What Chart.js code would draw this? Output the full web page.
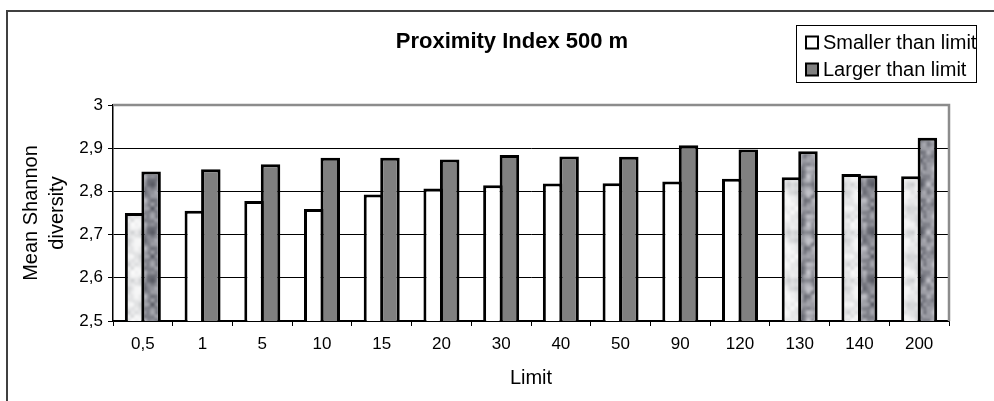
<!DOCTYPE html>
<html>
<head>
<meta charset="utf-8">
<title>Proximity Index 500 m</title>
<script src="https://cdn.jsdelivr.net/npm/chart.js@4.4.1/dist/chart.umd.min.js"></script>
<style>
  html, body { margin: 0; padding: 0; background: #ffffff; }
  #wrap { width: 994px; height: 401px; position: relative; }
</style>
</head>
<body>
<div id="wrap"><canvas id="chart" width="994" height="401"></canvas></div>
<script>
// ---- data ----
const limits = ['0,5', '1', '5', '10', '15', '20', '30', '40', '50', '90', '120', '130', '140', '200'];
const smallerThanLimit = [2.750, 2.755, 2.778, 2.759, 2.793, 2.807, 2.814, 2.818, 2.819, 2.823, 2.829, 2.833, 2.840, 2.835];
const largerThanLimit  = [2.846, 2.851, 2.863, 2.878, 2.878, 2.874, 2.884, 2.881, 2.880, 2.907, 2.897, 2.893, 2.837, 2.924];
const yTicks = [2.5, 2.6, 2.7, 2.8, 2.9, 3];
const seriesNames = ['Smaller than limit', 'Larger than limit'];
const texturedLimits = ['0,5', '130', '140', '200'];

// ---- style ----
const FONT = '"Liberation Sans", Arial, Helvetica, sans-serif';
const SMALLER_FILL = '#ffffff';
const LARGER_FILL = '#808080';

// Deterministic mottled texture used for the highlighted limits
function hash(i, j, seed) {
  const s = Math.sin(i * 127.1 + j * 311.7 + seed * 74.7) * 43758.5453;
  return s - Math.floor(s);
}
function valueNoise(x, y, cell, size, seed) {
  const g = size / cell;
  const gx = x / cell, gy = y / cell;
  const i0 = Math.floor(gx), j0 = Math.floor(gy);
  let fx = gx - i0, fy = gy - j0;
  fx = fx * fx * (3 - 2 * fx); fy = fy * fy * (3 - 2 * fy);
  const a = hash(i0 % g, j0 % g, seed), b = hash((i0 + 1) % g, j0 % g, seed);
  const c = hash(i0 % g, (j0 + 1) % g, seed), d = hash((i0 + 1) % g, (j0 + 1) % g, seed);
  return (a * (1 - fx) + b * fx) * (1 - fy) + (c * (1 - fx) + d * fx) * fy;
}
function makeTexture(light, dark, seed, power) {
  const N = 48;
  const cv = document.createElement('canvas');
  cv.width = N; cv.height = N;
  const g = cv.getContext('2d');
  const img = g.createImageData(N, N);
  for (let y = 0; y < N; y++) {
    for (let x = 0; x < N; x++) {
      let v = 0.65 * valueNoise(x, y, 8, N, seed) + 0.35 * valueNoise(x, y, 4, N, seed + 3);
      v = Math.pow(Math.min(1, Math.max(0, v)), power);
      const k = (y * N + x) * 4;
      for (let ch = 0; ch < 3; ch++) img.data[k + ch] = Math.round(light[ch] * (1 - v) + dark[ch] * v);
      img.data[k + 3] = 255;
    }
  }
  g.putImageData(img, 0, 0);
  return g.createPattern(cv, 'repeat');
}

const ctx = document.getElementById('chart').getContext('2d');
const lightTexture = makeTexture([252, 252, 252], [190, 192, 195], 1, 1.5);
const darkTexture = makeTexture([214, 214, 220], [70, 72, 82], 7, 1.4);

const smallerColors = limits.map(l => texturedLimits.includes(l) ? lightTexture : SMALLER_FILL);
const largerColors = limits.map(l => texturedLimits.includes(l) ? darkTexture : LARGER_FILL);

// Outer frame, plot frame, title and boxed legend
const decorations = {
  id: 'decorations',
  beforeDraw(chart) {
    const c = chart.ctx;
    c.save();
    c.strokeStyle = '#404040';
    c.lineWidth = 2;
    c.beginPath();
    c.moveTo(7, 401);
    c.lineTo(7, 11);
    c.lineTo(994, 11);
    c.stroke();
    c.restore();
  },
  afterDraw(chart) {
    const c = chart.ctx;
    const a = chart.chartArea;
    c.save();
    // grey top and right edges of the plot area
    c.strokeStyle = '#8c8c8c';
    c.lineWidth = 2.5;
    c.beginPath();
    c.moveTo(a.left, a.top);
    c.lineTo(a.right, a.top);
    c.lineTo(a.right, a.bottom);
    c.stroke();

    // title
    c.fillStyle = '#000';
    c.font = 'bold 22px ' + FONT;
    c.textAlign = 'center';
    c.textBaseline = 'middle';
    c.fillText('Proximity Index 500 m', 512, 42);

    // legend
    const lx = 796.5, ly = 25.5, lw = 180, lh = 57;
    c.strokeStyle = '#000';
    c.lineWidth = 1;
    c.strokeRect(lx, ly, lw, lh);
    c.font = '20px ' + FONT;
    c.textAlign = 'left';
    chart.data.datasets.forEach((ds, i) => {
      const cy = 42.5 + i * 27;
      c.fillStyle = ds.swatch;
      c.fillRect(806, cy - 6, 12, 12);
      c.strokeStyle = '#000';
      c.lineWidth = 2;
      c.strokeRect(806, cy - 6, 12, 12);
      c.fillStyle = '#000';
      c.fillText(ds.label, 823, cy + 1);
    });
    c.restore();
  }
};

new Chart(ctx, {
  type: 'bar',
  data: {
    labels: limits,
    datasets: [
      {
        label: seriesNames[0],
        data: smallerThanLimit,
        backgroundColor: smallerColors,
        swatch: SMALLER_FILL,
        borderColor: '#000',
        borderWidth: 3,
        borderSkipped: 'start'
      },
      {
        label: seriesNames[1],
        data: largerThanLimit,
        backgroundColor: largerColors,
        swatch: LARGER_FILL,
        borderColor: '#000',
        borderWidth: 3,
        borderSkipped: 'start'
      }
    ]
  },
  options: {
    responsive: false,
    animation: false,
    devicePixelRatio: 1,
    datasets: { bar: { categoryPercentage: 0.553, barPercentage: 1.18 } },
    layout: { padding: { left: 0, top: 105, right: 45, bottom: 0 } },
    plugins: {
      legend: { display: false },
      title: { display: false },
      tooltip: { enabled: false }
    },
    scales: {
      x: {
        offset: true,
        grid: { display: true, offset: true, drawOnChartArea: false, drawTicks: true, tickLength: 5, color: '#000', lineWidth: 1 },
        border: { display: true, color: '#000', width: 1.5 },
        ticks: { color: '#000', font: { family: FONT, size: 17 }, padding: 8, maxRotation: 0, autoSkip: false },
        title: { display: true, text: 'Limit', color: '#000', font: { family: FONT, size: 20, lineHeight: 1.3 }, padding: { top: 0, bottom: 10 } },
        afterFit(s) { s.height = 80; }
      },
      y: {
        min: 2.5,
        max: 3,
        afterBuildTicks(s) { s.ticks = yTicks.map(v => ({ value: v })); },
        grid: { display: true, drawTicks: true, tickLength: 5, color: '#000', lineWidth: 1 },
        border: { display: true, color: '#000', width: 1.5 },
        ticks: {
          color: '#000',
          font: { family: FONT, size: 17 },
          padding: 5,
          callback: v => String(Math.round(v * 10) / 10).replace('.', ',')
        },
        title: { display: true, text: ['Mean Shannon', 'diversity'], color: '#000', font: { family: FONT, size: 20, lineHeight: 1.3 }, padding: { top: 18, bottom: 0 } },
        afterFit(s) { s.width = 113; }
      }
    }
  },
  plugins: [decorations]
});
</script>
</body>
</html>
